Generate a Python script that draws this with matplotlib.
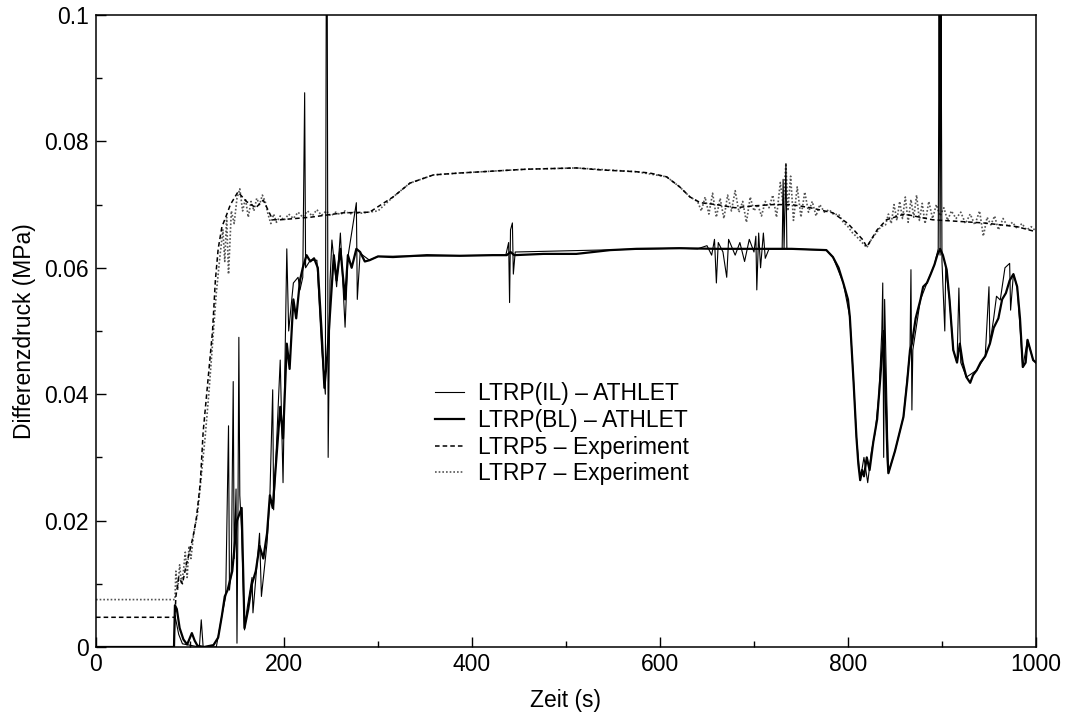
import matplotlib
matplotlib.use("Agg")
import matplotlib.pyplot as plt
from matplotlib.ticker import MultipleLocator, FuncFormatter

plt.rcParams["font.family"] = ["Liberation Sans", "DejaVu Sans"]

# ---------------------------------------------------------------------------
# Daten
# ---------------------------------------------------------------------------

# LTRP5 - Experiment (gestrichelt)
t_ltrp5 = [0, 84, 85, 88, 92, 96, 100, 104, 107, 111,
           114, 119, 124, 127, 130, 134, 138, 143, 151, 160,
           170, 178, 188, 196, 228, 263, 291, 316, 334, 359,
           387, 458, 511, 536, 575, 589, 607, 621, 632, 643,
           660, 680, 700, 720, 740, 760, 784, 800, 816, 820,
           831, 841, 860, 890, 944, 980, 1000]
v_ltrp5 = [0.0047, 0.0047, 0.008, 0.011, 0.010, 0.013, 0.0153, 0.018, 0.0206, 0.026,
           0.034, 0.042, 0.050, 0.058, 0.063, 0.0665, 0.068, 0.070, 0.072, 0.0705,
           0.0695, 0.0707, 0.0676, 0.0676, 0.068, 0.0687, 0.0688, 0.0712, 0.0734, 0.0747,
           0.075, 0.0756, 0.0758, 0.0755, 0.0752, 0.075, 0.0744, 0.0728, 0.0712, 0.0703,
           0.070, 0.0695, 0.0698, 0.070, 0.070, 0.0695, 0.0687, 0.067, 0.0644, 0.0633,
           0.066, 0.0676, 0.0685, 0.0676, 0.0671, 0.0665, 0.0657]

# LTRP7 - Experiment (punktiert), Anfang und Anstieg
t_ltrp7_a = [0, 84, 85, 87, 89, 91, 93, 95, 97, 99,
             101, 104, 108, 112, 116, 120, 124, 128, 132, 135,
             137, 139, 141, 144, 147, 150, 153, 156, 159, 162,
             165, 168, 171, 174, 177, 180, 183, 186, 189, 192,
             196, 200, 205, 210, 215, 220, 225, 230, 235, 240,
             245, 250, 255, 260, 265, 270, 275, 280, 290, 300]
v_ltrp7_a = [0.0075, 0.0075, 0.012, 0.009, 0.013, 0.010, 0.012, 0.015, 0.011, 0.016,
             0.014, 0.018, 0.021, 0.027, 0.033, 0.040, 0.048, 0.056, 0.062, 0.066,
             0.061, 0.068, 0.059, 0.069, 0.067, 0.071, 0.0725, 0.069, 0.071, 0.068,
             0.0705, 0.069, 0.071, 0.070, 0.0715, 0.0705, 0.0685, 0.067, 0.0685, 0.0672,
             0.0682, 0.0675, 0.0685, 0.0678, 0.0688, 0.068, 0.069, 0.0682, 0.0692, 0.0683,
             0.069, 0.0682, 0.0688, 0.0684, 0.069, 0.0685, 0.0688, 0.0686, 0.0688, 0.069]

# LTRP7 - Plateau
t_ltrp7_b = [316, 334, 359, 387, 458, 511, 575, 607, 621, 632]
v_ltrp7_b = [0.0712, 0.0734, 0.0747, 0.075, 0.0756, 0.0758, 0.0752, 0.0744, 0.0728, 0.0712]

# LTRP7 - unruhiger Bereich ab 640 s
t_ltrp7_c = [640, 644, 648, 652, 656, 660, 664, 668, 672, 676,
             680, 684, 688, 692, 696, 700, 704, 708, 712, 716,
             720, 724, 728, 731, 734, 736, 739, 742, 746, 750,
             754, 758, 762, 766, 770, 775, 780, 785, 790, 795,
             800, 805, 810, 815, 820, 825, 830, 835, 840, 843,
             846, 849, 852, 855, 858, 861, 864, 867, 870, 873,
             876, 879, 882, 886, 890, 894, 898, 902, 906, 910,
             915, 920, 925, 930, 935, 940, 944, 948, 952, 956,
             960, 965, 970, 975, 980, 985, 990, 995, 1000]
v_ltrp7_c = [0.0705, 0.069, 0.0712, 0.0685, 0.0718, 0.068, 0.071, 0.0678, 0.0715, 0.069,
             0.0722, 0.0688, 0.0705, 0.0672, 0.0712, 0.069, 0.070, 0.0682, 0.0705, 0.0695,
             0.0715, 0.068, 0.0735, 0.070, 0.0765, 0.069, 0.0745, 0.0675, 0.0728, 0.068,
             0.072, 0.0688, 0.0705, 0.0682, 0.070, 0.0688, 0.0692, 0.0684, 0.0685, 0.0672,
             0.0665, 0.0655, 0.0648, 0.064, 0.0632, 0.0645, 0.0655, 0.0665, 0.0668, 0.0685,
             0.067, 0.070, 0.0675, 0.0705, 0.0678, 0.0712, 0.0672, 0.0708, 0.068, 0.0715,
             0.0675, 0.0702, 0.067, 0.0705, 0.0678, 0.070, 0.0682, 0.0695, 0.0675, 0.069,
             0.0678, 0.0688, 0.067, 0.0685, 0.0668, 0.069, 0.065, 0.068, 0.0668, 0.0682,
             0.066, 0.0678, 0.0665, 0.0672, 0.0662, 0.067, 0.066, 0.0665, 0.0658]

# LTRP(BL) - ATHLET (dicke Linie)
t_bl = [0, 83, 84, 86, 89, 93, 97, 100, 102, 105,
        108, 115, 125, 130, 134, 137, 140, 145, 150, 155,
        158, 162, 166, 170, 174, 178, 182, 185, 188, 192,
        196, 199, 203, 206, 210, 213, 217, 220, 224, 228,
        232, 236, 240, 243, 246, 250, 253, 256, 260, 265,
        268, 272, 277, 281, 286, 291, 300, 316, 352, 387,
        422, 437, 441, 445, 476, 511, 547, 575, 621, 660,
        700, 740, 777, 784, 790, 795, 800, 802, 806, 809,
        811, 813, 815, 817, 820, 823, 827, 831, 834, 836,
        838, 840, 842, 843, 846, 850, 855, 859, 863, 866,
        868, 872, 877, 880, 884, 888, 892, 895, 898, 901,
        905, 908, 912, 916, 919, 922, 926, 930, 933, 937,
        941, 946, 951, 955, 960, 964, 968, 972, 976, 980,
        983, 986, 989, 991, 994, 997, 1000]
v_bl = [0.0, 0.0, 0.0066, 0.006, 0.003, 0.0012, 0.0004, 0.0015, 0.0022, 0.001,
        0.0002, 0.0, 0.0003, 0.0015, 0.005, 0.008, 0.009, 0.012, 0.020, 0.022,
        0.003, 0.006, 0.010, 0.012, 0.016, 0.014, 0.018, 0.024, 0.022, 0.030,
        0.038, 0.033, 0.048, 0.044, 0.055, 0.052, 0.058, 0.060, 0.062, 0.061,
        0.0615, 0.060, 0.050, 0.041, 0.046, 0.055, 0.062, 0.058, 0.063, 0.055,
        0.062, 0.060, 0.063, 0.0625, 0.061, 0.0612, 0.0618, 0.0617, 0.062, 0.0619,
        0.062, 0.062, 0.0625, 0.062, 0.0622, 0.0622, 0.0628, 0.063, 0.0631, 0.063,
        0.063, 0.063, 0.0628, 0.0617, 0.060, 0.0576, 0.055, 0.0522, 0.0418, 0.0332,
        0.029, 0.0264, 0.028, 0.027, 0.030, 0.028, 0.0325, 0.036, 0.0418, 0.046,
        0.050, 0.040, 0.030, 0.0275, 0.029, 0.031, 0.034, 0.0364, 0.042, 0.047,
        0.048, 0.052, 0.0549, 0.057, 0.0576, 0.059, 0.0605, 0.062, 0.063, 0.062,
        0.0597, 0.055, 0.047, 0.045, 0.048, 0.045, 0.0427, 0.0418, 0.043, 0.0438,
        0.045, 0.046, 0.048, 0.0505, 0.052, 0.055, 0.056, 0.058, 0.059, 0.057,
        0.052, 0.0443, 0.045, 0.0486, 0.047, 0.0454, 0.045]

# LTRP(IL) - ATHLET (dünne Linie mit Spitzen)
t_il = [0, 83, 84, 88, 92, 110, 112, 114, 128, 134,
        138, 141, 142, 144, 146, 147, 149, 150, 151, 152,
        153, 155, 158, 161, 166, 167, 174, 176, 182, 185,
        188, 189, 196, 199, 203, 205, 210, 215, 217, 220,
        222, 223, 228, 235, 240, 244, 245, 246, 247, 249,
        251, 256, 260, 265, 268, 277, 278, 281, 291, 300,
        436, 439, 440, 441, 443, 444, 446, 620, 640, 650,
        655, 658, 660, 662, 667, 671, 673, 680, 685, 690,
        695, 700, 702, 703, 705, 707, 710, 712, 716, 730,
        731, 732, 734, 735, 777, 784, 795, 802, 806, 809,
        813, 817, 821, 825, 829, 833, 836, 837, 838, 839,
        840, 843, 850, 859, 866, 867, 868, 869, 877, 884,
        892, 896, 897, 898, 899, 900, 903, 904, 908, 912,
        916, 918, 920, 926, 937, 946, 950, 951, 955, 958,
        962, 967, 972, 973, 976, 980, 986, 991, 997, 1000]
v_il = [0.0, 0.0, 0.005, 0.002, 0.0005, 0.0, 0.0043, 0.0, 0.0, 0.005,
        0.008, 0.035, 0.009, 0.012, 0.042, 0.014, 0.025, 0.0006, 0.020, 0.049,
        0.024, 0.018, 0.0027, 0.0063, 0.011, 0.0054, 0.018, 0.008, 0.0165, 0.0238,
        0.0407, 0.0217, 0.0454, 0.026, 0.063, 0.050, 0.0576, 0.0585, 0.0565, 0.0585,
        0.0877, 0.060, 0.0612, 0.0612, 0.0475, 0.040, 0.105, 0.105, 0.030, 0.058,
        0.0644, 0.057, 0.0655, 0.0506, 0.0617, 0.0703, 0.055, 0.0623, 0.0612, 0.0618,
        0.062, 0.064, 0.0545, 0.066, 0.0671, 0.059, 0.0625, 0.0631, 0.063, 0.0635,
        0.062, 0.0645, 0.0576, 0.064, 0.0625, 0.0585, 0.0645, 0.062, 0.064, 0.061,
        0.0645, 0.0625, 0.065, 0.0565, 0.0655, 0.060, 0.0655, 0.0615, 0.063, 0.063,
        0.074, 0.063, 0.0765, 0.063, 0.0628, 0.0617, 0.0576, 0.0522, 0.0418, 0.0332,
        0.0264, 0.030, 0.026, 0.031, 0.034, 0.040, 0.050, 0.0576, 0.030, 0.055,
        0.048, 0.0275, 0.031, 0.0364, 0.047, 0.0597, 0.0375, 0.047, 0.0549, 0.0576,
        0.0605, 0.063, 0.105, 0.062, 0.105, 0.061, 0.050, 0.060, 0.055, 0.047,
        0.045, 0.0568, 0.045, 0.0427, 0.0438, 0.046, 0.057, 0.048, 0.052, 0.0555,
        0.0549, 0.060, 0.0607, 0.0533, 0.059, 0.057, 0.0443, 0.0486, 0.0454, 0.045]

t_ltrp7 = t_ltrp7_a + t_ltrp7_b + t_ltrp7_c
v_ltrp7 = v_ltrp7_a + v_ltrp7_b + v_ltrp7_c

for t, v in ((t_ltrp5, v_ltrp5), (t_ltrp7, v_ltrp7), (t_bl, v_bl), (t_il, v_il)):
    assert len(t) == len(v), (len(t), len(v))

# ---------------------------------------------------------------------------
# Plot
# ---------------------------------------------------------------------------

FS = 16.5

fig = plt.figure(figsize=(10.76, 7.18), dpi=100)
ax = fig.add_axes([0.0892, 0.0989, 0.8736, 0.8802])

ax.plot(t_ltrp7, v_ltrp7, color="#555555", lw=1.2, ls=(0, (1, 1.2)),
        label="LTRP7 \u2013 Experiment", zorder=2)
ax.plot(t_ltrp5, v_ltrp5, color="black", lw=1.1, ls=(0, (3, 2)),
        label="LTRP5 \u2013 Experiment", zorder=3)
ax.plot(t_bl, v_bl, color="black", lw=1.6,
        label="LTRP(BL) \u2013 ATHLET", zorder=4)
ax.plot(t_il, v_il, color="black", lw=0.8,
        label="LTRP(IL) \u2013 ATHLET", zorder=5)

ax.set_xlim(0, 1000)
ax.set_ylim(0, 0.1)

ax.xaxis.set_major_locator(MultipleLocator(200))
ax.xaxis.set_minor_locator(MultipleLocator(100))
ax.yaxis.set_major_locator(MultipleLocator(0.02))
ax.yaxis.set_minor_locator(MultipleLocator(0.01))
ax.xaxis.set_major_formatter(FuncFormatter(lambda x, _: f"{x:g}"))
ax.yaxis.set_major_formatter(FuncFormatter(lambda y, _: f"{round(y, 3):g}"))

ax.tick_params(which="both", direction="in", top=False, right=False,
               labelsize=FS, width=1.0)
ax.tick_params(which="major", length=7)
ax.tick_params(axis="x", which="major", pad=4)
ax.tick_params(axis="y", which="major", pad=5)
ax.tick_params(which="minor", length=4)
for s in ax.spines.values():
    s.set_linewidth(1.1)

ax.set_xlabel("Zeit (s)", fontsize=FS, labelpad=10)
ax.set_ylabel("Differenzdruck (MPa)", fontsize=FS, labelpad=6)

handles, labels = ax.get_legend_handles_labels()
order = [3, 2, 1, 0]
ax.legend([handles[i] for i in order], [labels[i] for i in order],
          loc="upper left", bbox_to_anchor=(0.3606, 0.419), borderpad=0,
          borderaxespad=0, frameon=False, fontsize=FS, handlelength=1.25,
          handletextpad=0.65, labelspacing=0.16)

fig.savefig("out.png", dpi=100)
